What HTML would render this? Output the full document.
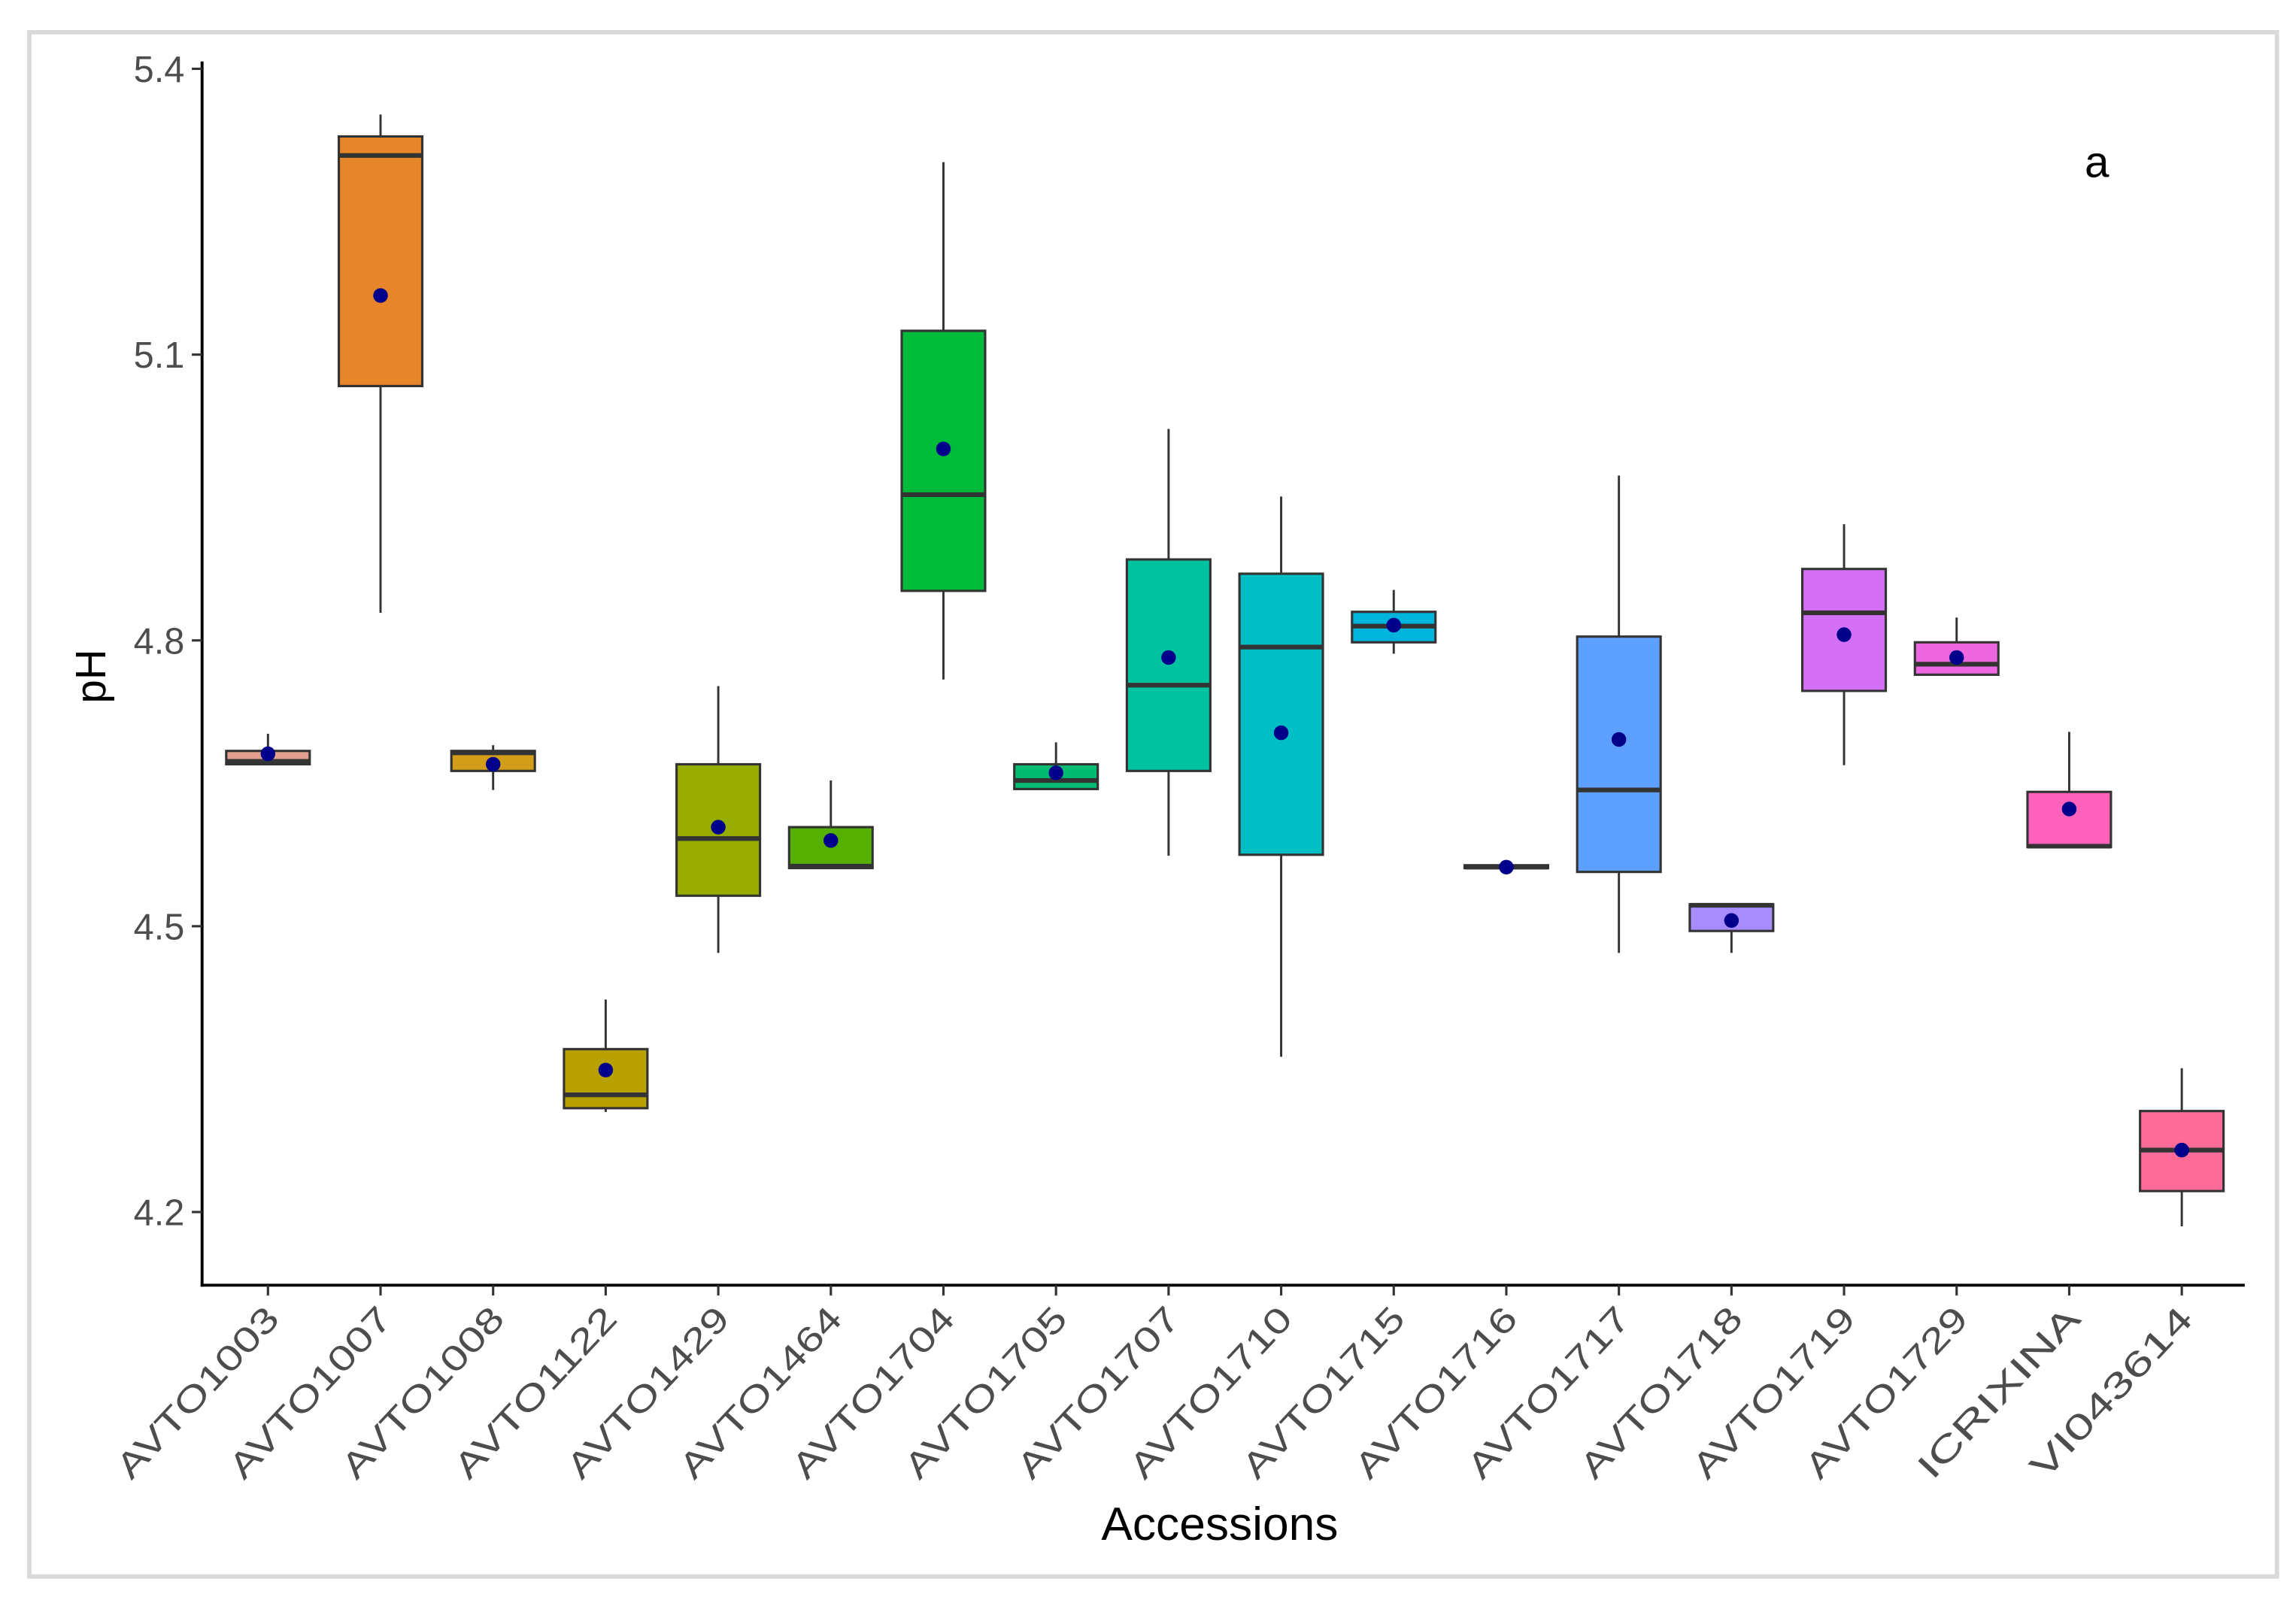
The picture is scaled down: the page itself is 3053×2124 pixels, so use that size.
<!DOCTYPE html>
<html><head><meta charset="utf-8"><style>
html,body{margin:0;padding:0;background:#fff;}
svg{display:block;}
text{font-family:"Liberation Sans",sans-serif;}
</style></head><body>
<svg id="chart" width="3053" height="2124" viewBox="0 0 1568 1091" preserveAspectRatio="none" xmlns="http://www.w3.org/2000/svg">
<rect x="0" y="0" width="1568" height="1091" fill="#fff"/>
<rect x="20" y="22" width="1535" height="1055" fill="none" stroke="#d9d9d9" stroke-width="3"/>
<g id="marks"></g>
<line x1="138" y1="42" x2="138" y2="879" stroke="#000" stroke-width="2"/>
<line x1="137" y1="878" x2="1533" y2="878" stroke="#000" stroke-width="2"/>
<g id="axes"></g>
<text x="833" y="1052" font-size="32" text-anchor="middle" fill="#000">Accessions</text>
<text x="0" y="0" font-size="29" text-anchor="middle" fill="#000" transform="translate(72,462) rotate(-90)">pH</text>
<text x="1432" y="121" font-size="30" text-anchor="middle" fill="#000">a</text>
</svg>
<script>
const categories=["AVTO1003","AVTO1007","AVTO1008","AVTO1122","AVTO1429","AVTO1464","AVTO1704","AVTO1705","AVTO1707","AVTO1710","AVTO1715","AVTO1716","AVTO1717","AVTO1718","AVTO1719","AVTO1729","ICRIXINA","VI043614"];
const whiskerLow=[4.670,4.829,4.643,4.305,4.472,4.561,4.759,4.644,4.574,4.363,4.786,4.561,4.472,4.472,4.669,4.764,4.583,4.185];
const q1=[4.670,5.067,4.663,4.309,4.532,4.561,4.852,4.644,4.663,4.575,4.798,4.561,4.557,4.495,4.747,4.764,4.583,4.222];
const medians=[4.673,5.309,4.682,4.323,4.592,4.563,4.953,4.653,4.753,4.793,4.815,4.562,4.643,4.522,4.829,4.775,4.584,4.265];
const q3=[4.684,5.329,4.684,4.371,4.670,4.604,5.125,4.670,4.885,4.870,4.830,4.564,4.804,4.523,4.875,4.798,4.641,4.306];
const whiskerHigh=[4.702,5.352,4.690,4.423,4.752,4.653,5.302,4.693,5.022,4.951,4.853,4.564,4.973,4.523,4.922,4.824,4.704,4.351];
const means=[4.681,5.162,4.670,4.349,4.604,4.590,5.001,4.661,4.782,4.703,4.816,4.562,4.696,4.506,4.806,4.782,4.623,4.265];
const fills=["#E3A08E","#E6852A","#D39D1A","#B8A000","#96AD00","#55B000","#00BB3A","#00BC73","#00C1A0","#00BFC4","#00B4DC","#00A8F0","#5EA0FF","#A68CFF","#D470F5","#ED68E0","#FF62BC","#FF6B98"];
const yTicks=[4.2,4.5,4.8,5.1,5.4];
const yTickLabels=["4.2","4.5","4.8","5.1","5.4"];

const NS="http://www.w3.org/2000/svg";
function yScale(v){return 47+(5.4-v)/0.3*195.25;}
function xScale(i){return 183+i*(1490-183)/(categories.length-1);}
function mk(tag,attrs,parent){const e=document.createElementNS(NS,tag);for(const k in attrs)e.setAttribute(k,attrs[k]);parent.appendChild(e);return e;}
const marks=document.getElementById('marks');
const axes=document.getElementById('axes');
const bw=57;
categories.forEach((c,i)=>{
  const x=xScale(i);
  const g=mk('g',{},marks);
  
  
  const w1=mk('line',{x1:x,x2:x,y1:yScale(whiskerHigh[i]),y2:yScale(q3[i]),stroke:'#333',"stroke-width":1.5},g);
  
  
  const w2=mk('line',{x1:x,x2:x,y1:yScale(q1[i]),y2:yScale(whiskerLow[i]),stroke:'#333',"stroke-width":1.5},g);
  
  
  const top=yScale(q3[i]),bot=yScale(q1[i]);
  const r=mk('rect',{x:x-bw/2,y:top,width:bw,height:Math.max(bot-top,1),fill:fills[i],stroke:'#333',"stroke-width":1.6},g);
  
  
  const m=mk('line',{x1:x-bw/2,x2:x+bw/2,y1:yScale(medians[i]),y2:yScale(medians[i]),stroke:'#333',"stroke-width":3.2},g);
  
  
  const d=mk('circle',{cx:x,cy:yScale(means[i]),r:5,fill:'#00008B'},g);
  
  
  const t=mk('line',{x1:x,x2:x,y1:878,y2:885,stroke:'#333',"stroke-width":1.6},axes);
  
  
  const lb=mk('text',{x:0,y:0,"font-size":24,fill:'#4d4d4d',"text-anchor":'end',textLength:150,lengthAdjust:'spacingAndGlyphs',transform:`translate(${x+9},${902}) rotate(-47)`},axes);
  lb.textContent=c;
  
  
});
yTicks.forEach((v,i)=>{
  const y=yScale(v);
  const t=mk('line',{x1:131,x2:138,y1:y,y2:y,stroke:'#333',"stroke-width":1.6},axes);
  
  
  const lb=mk('text',{x:126,y:y+9,"font-size":25,fill:'#4d4d4d',"text-anchor":'end'},axes);
  lb.textContent=yTickLabels[i];
  
  
});
</script>
</body></html>
